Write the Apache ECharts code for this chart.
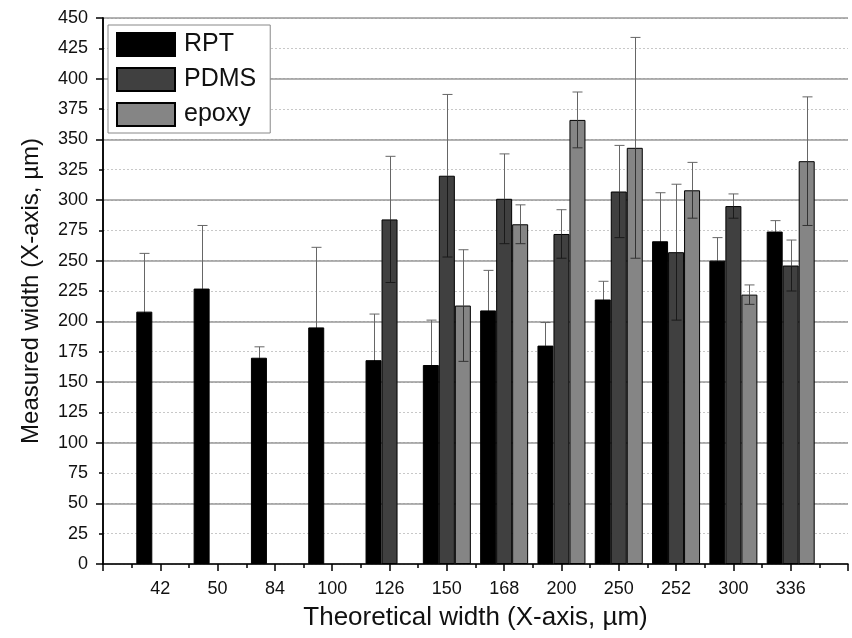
<!DOCTYPE html>
<html>
<head>
<meta charset="utf-8">
<script src="https://cdn.jsdelivr.net/npm/echarts@6/dist/echarts.min.js"></script>
<style>
  html, body { margin: 0; padding: 0; background: #fff; }
  #chart { width: 852px; height: 638px; }
</style>
</head>
<body>
<div id="chart"></div>
<script>
// theoretical widths (categories on the x axis)
const categories = ['42', '50', '84', '100', '126', '150', '168', '200', '250', '252', '300', '336'];

// measured widths, mean and error, one pair per material
const rpt      = [208, 227, 170, 195, 168, 164, 209, 180, 218, 266, 250, 274];
const rptErr   = [48, 52, 9, 66, 38, 37, 33, 19, 15, 40, 19, 9];
const pdms     = [null, null, null, null, 284, 320, 301, 272, 307, 257, 295, 246];
const pdmsErr  = [null, null, null, null, 52, 67, 37, 20, 38, 56, 10, 21];
const epoxy    = [null, null, null, null, null, 213, 280, 366, 343, 308, 222, 332];
const epoxyErr = [null, null, null, null, null, 46, 16, 23, 91, 23, 8, 53];

const FONT = 'Liberation Sans, Arial, sans-serif';
const BAR_W = 16;

const chart = echarts.init(document.getElementById('chart'));

// x positions 1..12 on a 0..13 value axis
function toBars(vals) {
  return vals.map((v, i) => (v == null ? [i + 1, '-'] : [i + 1, v]));
}

// error bars: upper half grey over white, lower half dark over the bar itself
function errSeries(name, vals, errs, offset, innerColor) {
  const data = [];
  vals.forEach((v, i) => {
    if (v != null) data.push([i + 1, v, v - errs[i], v + errs[i]]);
  });
  return {
    name: name + ' err',
    type: 'custom',
    silent: true,
    z: 5,
    data: data,
    renderItem: function (params, api) {
      const mid = api.coord([api.value(0), api.value(1)]);
      const lo = api.coord([api.value(0), api.value(2)]);
      const hi = api.coord([api.value(0), api.value(3)]);
      const x = Math.round(mid[0] + offset) + 0.5;
      const half = 5;
      const outer = { stroke: '#666', lineWidth: 1 };
      const inner = { stroke: innerColor, lineWidth: 1 };
      return {
        type: 'group',
        children: [
          { type: 'line', shape: { x1: x, y1: mid[1], x2: x, y2: hi[1] }, style: outer },
          { type: 'line', shape: { x1: x - half, y1: hi[1], x2: x + half, y2: hi[1] }, style: outer },
          { type: 'line', shape: { x1: x, y1: mid[1], x2: x, y2: lo[1] }, style: inner },
          { type: 'line', shape: { x1: x - half, y1: lo[1], x2: x + half, y2: lo[1] }, style: inner }
        ]
      };
    }
  };
}

function barSeries(name, vals, color) {
  return {
    name: name,
    type: 'bar',
    barWidth: BAR_W,
    barGap: '0%',
    data: toBars(vals),
    itemStyle: { color: color, borderColor: '#000', borderWidth: 1 }
  };
}

const option = {
  animation: false,
  backgroundColor: '#fff',
  textStyle: { fontFamily: FONT },
  grid: { left: 103, right: 4, top: 18, bottom: 74 },
  legend: {
    data: ['RPT', 'PDMS', 'epoxy'],
    icon: 'rect',
    orient: 'vertical',
    left: 108,
    top: 25,
    itemWidth: 58,
    itemHeight: 23,
    itemGap: 10,
    padding: [7, 14, 6, 8],
    borderColor: '#888',
    borderWidth: 1,
    backgroundColor: '#fff',
    textStyle: { fontSize: 25, color: '#111', fontFamily: FONT, padding: [0, 0, 0, 4] }
  },
  xAxis: {
    type: 'value',
    min: 0,
    max: 13,
    interval: 1,
    name: 'Theoretical width (X-axis, µm)',
    nameLocation: 'middle',
    nameGap: 41,
    nameTextStyle: { fontSize: 26, color: '#111', fontFamily: FONT },
    axisLine: { lineStyle: { color: '#000', width: 1.5 } },
    axisTick: { length: 7, lineStyle: { color: '#000', width: 1.5 } },
    minorTick: { show: true, splitNumber: 2, length: 4, lineStyle: { color: '#000', width: 1.5 } },
    splitLine: { show: false },
    axisLabel: {
      fontSize: 18,
      color: '#111',
      margin: 16,
      formatter: function (v) { return categories[v - 1] || ''; }
    }
  },
  yAxis: [
    {
      type: 'value',
      min: 0,
      max: 450,
      interval: 25,
      position: 'left',
      name: 'Measured width (X-axis, µm)',
      nameLocation: 'middle',
      nameGap: 60,
      nameTextStyle: { fontSize: 24, color: '#111', fontFamily: FONT },
      axisLine: { show: true, lineStyle: { color: '#000', width: 1.5 } },
      axisTick: { show: true, length: 4, lineStyle: { color: '#000', width: 1.5 } },
      axisLabel: { fontSize: 18, color: '#111', margin: 15 },
      splitLine: { show: true, lineStyle: { color: '#c8c8c8', type: [2, 2], width: 1 } }
    },
    {
      type: 'value',
      min: 0,
      max: 450,
      interval: 50,
      position: 'left',
      offset: 0,
      axisLine: { show: true, lineStyle: { color: '#000', width: 1.5 } },
      axisTick: { show: true, length: 7, lineStyle: { color: '#000', width: 1.5 } },
      axisLabel: { show: false },
      splitLine: { show: true, lineStyle: { color: '#999', width: 1.5 } }
    }
  ],
  series: [
    barSeries('RPT', rpt, '#000000'),
    barSeries('PDMS', pdms, '#404040'),
    barSeries('epoxy', epoxy, '#858585'),
    errSeries('RPT', rpt, rptErr, -BAR_W, '#000'),
    errSeries('PDMS', pdms, pdmsErr, 0, '#1a1a1a'),
    errSeries('epoxy', epoxy, epoxyErr, BAR_W, '#333')
  ]
};

chart.setOption(option);
</script>
</body>
</html>
